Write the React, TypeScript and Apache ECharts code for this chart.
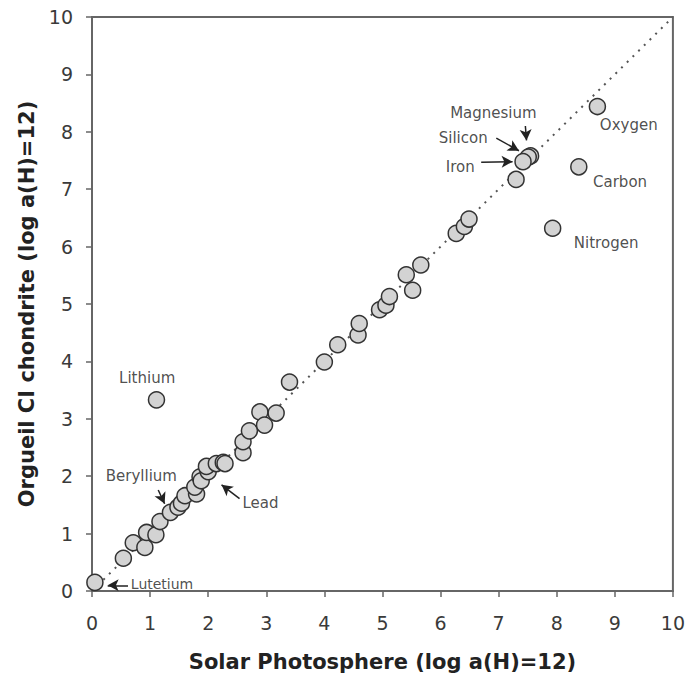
import React, { useEffect, useRef } from "react";
import * as echarts from "echarts";

// Element abundances (log a(H)=12)
const solarPhotosphere = [
  0.05, 0.54, 0.71, 0.91, 0.94, 1.10, 1.17, 1.35, 1.48, 1.54, 1.60, 1.80, 1.77, 1.86,
  1.88, 2.00, 1.97, 2.14, 2.26, 2.29, 1.11, 2.60, 2.60, 2.71, 2.89, 2.97, 3.17, 3.40,
  4.00, 4.23, 4.58, 4.60, 4.95, 5.06, 5.12, 5.52, 5.41, 5.66, 6.27, 6.41, 6.49,
  8.70, 8.38, 7.93, 7.30, 7.55, 7.51, 7.42,
];
const orgueilChondrite = [
  0.15, 0.57, 0.84, 0.76, 1.02, 0.98, 1.21, 1.37, 1.46, 1.53, 1.66, 1.69, 1.81, 1.99,
  1.92, 2.08, 2.17, 2.22, 2.24, 2.22, 3.33, 2.41, 2.60, 2.79, 3.12, 2.89, 3.10, 3.64,
  3.99, 4.29, 4.46, 4.66, 4.90, 4.98, 5.13, 5.24, 5.51, 5.68, 6.23, 6.35, 6.48,
  8.44, 7.39, 6.32, 7.17, 7.58, 7.56, 7.48,
];

// Identity line
const identityX = [0, 10];
const identityY = [0, 10];

// Annotation labels
const labelNames = ["Magnesium", "Silicon", "Iron", "Oxygen", "Carbon", "Nitrogen", "Lithium", "Beryllium", "Lead"];
const labelX = [6.91, 6.39, 6.34, 9.24, 9.09, 8.85, 0.95, 0.85, 2.90];
const labelY = [8.33, 7.89, 7.39, 8.12, 7.13, 6.06, 3.71, 2.00, 1.53];
const lutetiumLabel = { name: "Lutetium", x: 0.66, y: 0.12 };

// Arrows: start and end points
const arrowFromX = [7.46, 6.96, 6.70, 1.14, 2.54, 0.62];
const arrowFromY = [8.10, 7.89, 7.47, 1.76, 1.61, 0.10];
const arrowToX = [7.48, 7.35, 7.24, 1.25, 2.23, 0.27];
const arrowToY = [7.85, 7.67, 7.48, 1.52, 1.85, 0.10];

const FONT = "Verdana, 'DejaVu Sans', sans-serif";

export default function App() {
  const ref = useRef<HTMLDivElement>(null);
  useEffect(() => {
    if (!ref.current) return;
    const chart = echarts.init(ref.current, undefined, { renderer: "svg" });
    const points = solarPhotosphere.map((x, i) => [x, orgueilChondrite[i]]);
    const labels = labelNames.map((n, i) => ({ name: n, value: [labelX[i], labelY[i]] }));
    const arrows = arrowFromX.map((x, i) => [
      { coord: [x, arrowFromY[i]], symbol: "none" },
      { coord: [arrowToX[i], arrowToY[i]], symbol: "arrow" },
    ]);
    chart.setOption({
      animation: false,
      grid: {
        left: 92,
        right: 14,
        top: 17,
        bottom: 86,
        show: true,
        borderColor: "#666",
        borderWidth: 2,
        backgroundColor: "#fff",
      },
      xAxis: {
        type: "value",
        min: 0,
        max: 10,
        interval: 1,
        name: "Solar Photosphere (log a(H)=12)",
        nameLocation: "middle",
        nameGap: 60,
        nameTextStyle: { fontFamily: FONT, fontSize: 21, fontWeight: "bold", color: "#222" },
        axisLine: { show: true, lineStyle: { color: "#666", width: 2 } },
        axisTick: { show: true, inside: false, length: 6, lineStyle: { color: "#666", width: 1.5 } },
        axisLabel: { margin: 22, fontFamily: FONT, fontSize: 19, color: "#3a3a3a" },
        splitLine: { show: false },
      },
      yAxis: {
        type: "value",
        min: 0,
        max: 10,
        interval: 1,
        name: "Orgueil CI chondrite (log a(H)=12)",
        nameLocation: "middle",
        nameGap: 51,
        nameTextStyle: { fontFamily: FONT, fontSize: 21, fontWeight: "bold", color: "#222" },
        axisLine: { show: true, lineStyle: { color: "#666", width: 2 } },
        axisTick: { show: true, inside: false, length: 6, lineStyle: { color: "#666", width: 1.5 } },
        axisLabel: { margin: 19, fontFamily: FONT, fontSize: 19, color: "#3a3a3a" },
        splitLine: { show: false },
      },
      series: [
        {
          type: "line",
          data: identityX.map((x, i) => [x, identityY[i]]),
          showSymbol: false,
          symbol: "none",
          lineStyle: { color: "#555", width: 2, type: [2, 6] },
          z: 1,
          silent: true,
        },
        {
          type: "scatter",
          data: points,
          symbol: "circle",
          symbolSize: 16,
          itemStyle: { color: "#d3d3d3", borderColor: "#333", borderWidth: 1.5, opacity: 1 },
          z: 3,
        },
        {
          type: "scatter",
          data: labels,
          symbolSize: 1,
          itemStyle: { color: "rgba(0,0,0,0)" },
          label: {
            show: true,
            position: "inside",
            formatter: "{b}",
            fontFamily: FONT,
            fontSize: 15,
            color: "#222",
          },
          z: 4,
          silent: true,
          markLine: {
            silent: true,
            symbolSize: [9, 11],
            label: { show: false },
            lineStyle: { color: "#222", width: 1.5, type: "solid" },
            data: arrows,
          },
        },
        {
          type: "scatter",
          data: [{ name: lutetiumLabel.name, value: [lutetiumLabel.x, lutetiumLabel.y] }],
          symbolSize: 1,
          itemStyle: { color: "rgba(0,0,0,0)" },
          label: {
            show: true,
            position: "right",
            distance: 0,
            formatter: "{b}",
            fontFamily: FONT,
            fontSize: 14,
            color: "#222",
          },
          z: 4,
          silent: true,
        },
      ],
    });
    return () => chart.dispose();
  }, []);
  return (
    <div
      ref={ref}
      style={{ position: "fixed", left: 0, top: 0, width: 688, height: 677, background: "#fff" }}
    />
  );
}
